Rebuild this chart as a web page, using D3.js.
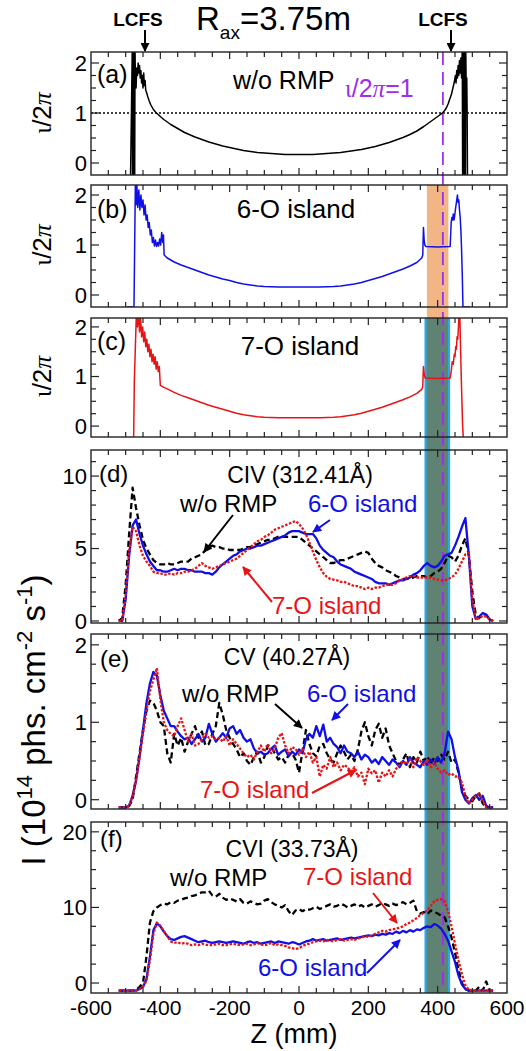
<!DOCTYPE html>
<html>
<head>
<meta charset="utf-8">
<script src="https://cdn.jsdelivr.net/npm/d3@7"></script>
<style>
  body { margin: 0; background: #fff; }
  svg text { font-family: "Liberation Sans", Arial, sans-serif; }
</style>
</head>
<body>
<svg id="chart" width="526" height="1051"></svg>
<script>
'use strict'

// ---- data ----

// rotational transform profiles, [Z (mm), iota/2pi]
var iotaNoRmp = [[-486,-0.3],[-483,1.2],[-481,2.3],[-480,-0.3],[-479,2.3],[-478,-0.3],[-477,2.3],[-476,-0.3],[-475,2.3],[-474,-0.3],[-473,2.3],[-472,1.7],[-470,1.5],[-468,1.9],[-466,1.75],[-464,2.0],[-462,1.8],[-460,1.95],[-458,1.7],[-456,1.85],[-454,1.6],[-452,1.75],[-450,1.5],[-448,1.8],[-446,1.55],[-444,1.65],[-442,1.45],[-440,1.42],[-436,1.32],[-432,1.24],[-428,1.17],[-424,1.12],[-420,1.07],[-414,1.02],[-408,0.98],[-400,0.93],[-390,0.87],[-380,0.82],[-370,0.77],[-360,0.73],[-350,0.69],[-340,0.65],[-330,0.61],[-320,0.58],[-300,0.52],[-280,0.47],[-260,0.42],[-240,0.38],[-220,0.34],[-200,0.31],[-180,0.28],[-160,0.25],[-140,0.23],[-120,0.21],[-100,0.2],[-80,0.19],[-60,0.18],[-40,0.17],[0,0.17],[40,0.17],[60,0.18],[80,0.19],[100,0.2],[120,0.21],[140,0.23],[160,0.25],[180,0.27],[200,0.3],[220,0.33],[240,0.37],[260,0.41],[280,0.46],[300,0.51],[320,0.57],[340,0.64],[360,0.73],[380,0.83],[400,0.93],[410,0.98],[415,1.01],[420,1.05],[425,1.1],[430,1.18],[435,1.28],[440,1.38],[444,1.5],[448,1.62],[451,1.75],[453,1.6],[455,1.85],[457,1.7],[459,1.95],[461,1.75],[463,2.05],[465,1.8],[467,2.1],[469,1.7],[471,2.3],[472,-0.3],[473,2.3],[474,-0.3],[475,2.3],[476,-0.3],[477,2.3],[478,-0.3],[479,2.3],[480,-0.3],[481,2.3],[482,1.7],[484,1.7],[485,1.0],[486,-0.3]]

var iota6o = [[-496,-0.24],[-476,-0.24],[-474,1.0],[-472,2.25],[-470,1.8],[-468,2.25],[-465,1.75],[-462,2.1],[-459,1.7],[-456,2.0],[-453,1.75],[-450,1.9],[-447,1.6],[-444,1.8],[-441,1.5],[-438,1.6],[-435,1.35],[-432,1.45],[-429,1.2],[-426,1.3],[-423,1.05],[-420,1.15],[-417,0.98],[-414,1.1],[-411,0.97],[-408,1.05],[-405,0.98],[-402,1.12],[-399,1.0],[-396,1.25],[-393,1.05],[-391,1.2],[-389,0.8],[-380,0.74],[-360,0.66],[-340,0.6],[-320,0.55],[-300,0.5],[-280,0.45],[-260,0.4],[-240,0.36],[-220,0.32],[-200,0.29],[-180,0.25],[-160,0.22],[-140,0.2],[-120,0.18],[-100,0.17],[-60,0.16],[0,0.16],[60,0.16],[100,0.17],[120,0.18],[140,0.2],[160,0.22],[180,0.25],[200,0.29],[220,0.33],[240,0.37],[260,0.42],[280,0.47],[300,0.52],[320,0.58],[340,0.65],[354,0.74],[357,0.8],[359,1.35],[361,1.1],[363,1.0],[366,0.97],[400,0.96],[436,0.97],[439,1.45],[441,1.55],[443,1.5],[445,1.62],[447,1.5],[449,1.58],[451,1.7],[453,1.8],[455,1.9],[457,2.0],[459,1.85],[461,1.9],[463,1.7],[465,1.55],[467,1.3],[469,0.9],[471,0.4],[473,-0.24],[494,-0.24]]

var iota7o = [[-498,-0.24],[-477,-0.24],[-475,0.9],[-472,1.6],[-469,2.3],[-466,2.0],[-463,2.3],[-460,1.9],[-457,2.2],[-454,1.8],[-451,2.0],[-448,1.7],[-445,1.9],[-442,1.6],[-439,1.75],[-436,1.5],[-433,1.65],[-430,1.4],[-427,1.55],[-424,1.3],[-421,1.45],[-418,1.25],[-415,1.4],[-412,1.15],[-409,1.3],[-406,1.1],[-403,1.2],[-400,0.82],[-390,0.78],[-380,0.75],[-360,0.68],[-340,0.62],[-320,0.57],[-300,0.52],[-280,0.47],[-260,0.42],[-240,0.38],[-220,0.34],[-200,0.3],[-180,0.26],[-160,0.23],[-140,0.21],[-120,0.19],[-100,0.18],[-60,0.17],[0,0.17],[60,0.17],[100,0.18],[120,0.19],[140,0.21],[160,0.23],[180,0.26],[200,0.3],[220,0.34],[240,0.38],[260,0.43],[280,0.48],[300,0.53],[320,0.59],[340,0.66],[354,0.74],[357,0.8],[359,1.2],[361,1.05],[364,0.97],[400,0.96],[436,0.97],[439,1.1],[442,1.3],[445,1.25],[448,1.45],[450,1.4],[452,1.6],[454,1.55],[456,1.8],[458,1.75],[460,2.0],[462,2.3],[464,2.2],[466,1.6],[468,1.0],[470,0.5],[472,0.0],[474,-0.24],[498,-0.24]]

// emission profiles share one Z grid (mm)
var zGrid = [
  -520,-510,-500,-490,-480,-470,-460,-450,-440,-430,
  -420,-410,-400,-390,-380,-370,-360,-350,-340,-330,
  -320,-310,-300,-290,-280,-270,-260,-250,-240,-230,
  -220,-210,-200,-190,-180,-170,-160,-150,-140,-130,
  -120,-110,-100,-90,-80,-70,-60,-50,-40,-30,
  -20,-10,0,10,20,30,40,50,60,70,
  80,90,100,110,120,130,140,150,160,170,
  180,190,200,210,220,230,240,250,260,270,
  280,290,300,310,320,330,340,350,360,370,
  380,390,400,410,420,430,440,450,460,470,
  480,490,500,510,520,530,540,550,560]

// CIV 312.41 A
var civNoRmp = [
  0,0.2,2.5,6.0,9.2,7.8,6.6,5.6,5.0,4.6,
  4.2,4.0,3.9,3.9,4.0,3.9,3.9,4.0,4.1,4.1,
  4.1,4.3,4.4,4.5,4.6,4.9,5.1,5.2,5.1,5.1,
  5.0,5.0,4.9,4.9,4.9,4.9,5.0,5.1,5.1,5.2,
  5.3,5.4,5.5,5.6,5.6,5.7,5.8,5.8,5.8,5.8,
  5.8,5.8,5.8,5.6,5.4,5.2,5.0,4.8,4.6,4.4,
  4.2,4.0,4.0,4.1,4.2,4.2,4.3,4.4,4.5,4.6,
  4.7,4.8,4.7,4.3,4.0,3.8,3.7,3.5,3.4,3.3,
  3.1,3.0,2.9,2.9,2.9,3.0,3.1,3.1,3.1,3.0,
  3.1,3.3,3.4,3.6,4.0,4.5,4.4,4.1,4.5,5.2,
  5.7,4.5,2.0,0.4,0.2,0.5,0.4,0.1,0]
var civ6o = [
  0,0,1.5,4.5,6.6,7.0,6.0,5.2,4.6,4.1,
  3.8,3.5,3.5,3.4,3.4,3.5,3.6,3.5,3.6,3.6,
  3.5,3.5,3.4,3.4,3.4,3.3,3.3,3.2,3.4,3.7,
  3.9,4.1,4.3,4.5,4.6,4.8,4.9,5.0,5.0,5.1,
  5.2,5.2,5.3,5.4,5.5,5.6,5.7,5.8,5.9,6.1,
  6.2,6.2,6.2,6.1,6.0,6.0,6.0,5.7,5.2,4.9,
  4.7,4.5,4.4,4.1,3.9,3.8,3.7,3.6,3.4,3.3,
  3.2,3.1,3.0,2.9,2.7,2.6,2.6,2.6,2.5,2.6,
  2.7,2.8,2.8,2.9,3.0,3.2,3.3,3.5,3.8,4.0,
  3.8,3.7,3.8,4.1,4.5,4.6,4.7,5.2,5.8,6.5,
  7.1,4.5,1.0,0.15,0.3,0.55,0.45,0.1,0]
var civ7o = [
  0,0,1.8,4.8,6.5,6.2,5.2,4.5,4.1,3.8,
  3.4,3.3,3.3,3.2,3.2,3.3,3.2,3.3,3.3,3.4,
  3.4,3.5,3.6,3.8,4.0,3.8,3.7,3.6,3.7,3.8,
  3.9,4.0,4.1,4.2,4.3,4.5,4.7,4.9,5.1,5.3,
  5.5,5.6,5.8,5.9,6.1,6.3,6.4,6.5,6.6,6.7,
  6.8,6.9,6.7,6.4,6.0,5.4,4.8,4.2,3.7,3.3,
  3.05,2.9,2.85,2.8,2.7,2.7,2.6,2.5,2.4,2.4,
  2.3,2.2,2.3,2.2,2.3,2.3,2.4,2.5,2.5,2.5,
  2.6,2.8,2.9,3.0,3.1,3.1,3.0,3.0,3.0,3.0,
  3.0,2.9,2.85,2.8,2.8,2.9,3.0,3.2,3.6,4.1,
  4.6,4.7,1.5,0.1,0.2,0.35,0.3,0.1,0]

// CV 40.27 A
var cvNoRmp = [
  -0.1,-0.1,-0.1,-0.08,0.0,0.3,0.6,0.9,1.15,1.28,
  1.25,1.15,1.0,0.95,0.6,0.48,0.85,0.7,0.8,0.62,
  0.75,0.85,0.95,0.8,0.88,0.7,0.72,0.85,0.95,1.25,
  1.1,0.9,0.8,0.72,0.65,0.55,0.6,0.5,0.45,0.55,
  0.62,0.48,0.55,0.7,0.68,0.6,0.52,0.55,0.48,0.58,
  0.6,0.52,0.35,0.62,0.9,0.72,0.6,0.56,0.7,0.72,
  0.6,0.52,0.48,0.6,0.7,0.62,0.52,0.58,0.5,0.65,
  0.88,1.0,0.82,0.7,0.9,0.98,0.8,0.92,0.7,0.6,
  0.5,0.45,0.52,0.6,0.42,0.55,0.48,0.62,0.5,0.56,
  0.45,0.55,0.5,0.58,0.52,0.62,0.48,0.52,0.35,0.15,
  0.05,0.0,-0.02,0.05,0.08,-0.05,-0.1,-0.1,-0.1]
var cv6o = [
  -0.1,-0.1,-0.1,-0.08,0.05,0.25,0.55,0.9,1.25,1.5,
  1.65,1.6,1.35,1.15,1.05,0.95,0.95,0.88,0.82,0.78,
  0.8,0.72,0.78,0.85,0.75,0.8,0.98,0.85,0.75,0.8,
  0.86,0.8,0.92,0.95,0.85,0.9,0.8,0.75,0.78,0.66,
  0.6,0.62,0.58,0.6,0.66,0.7,0.58,0.62,0.65,0.56,
  0.62,0.58,0.65,0.6,0.78,0.85,0.8,0.95,0.82,0.97,
  0.75,0.8,0.72,0.68,0.6,0.7,0.62,0.6,0.55,0.62,
  0.52,0.58,0.55,0.48,0.52,0.46,0.55,0.5,0.45,0.52,
  0.48,0.42,0.5,0.45,0.55,0.48,0.45,0.42,0.5,0.45,
  0.52,0.46,0.55,0.48,0.6,0.88,0.78,0.55,0.38,0.1,
  0.0,-0.05,0.02,0.06,0.0,0.05,-0.08,-0.1,-0.1]
var cv7o = [
  -0.1,-0.1,-0.1,-0.08,0.05,0.25,0.55,0.85,1.15,1.4,
  1.55,1.7,1.3,1.0,0.9,0.85,0.82,0.95,1.05,0.9,
  0.75,0.85,0.7,0.72,0.78,0.85,0.8,0.82,0.78,0.8,
  0.75,0.82,0.7,0.78,0.72,0.66,0.6,0.55,0.58,0.52,
  0.62,0.7,0.62,0.72,0.6,0.66,0.8,0.86,0.7,0.6,
  0.68,0.66,0.58,0.65,0.55,0.62,0.48,0.55,0.3,0.45,
  0.4,0.55,0.42,0.48,0.38,0.45,0.42,0.36,0.42,0.3,
  0.35,0.2,0.4,0.34,0.38,0.22,0.35,0.3,0.38,0.3,
  0.4,0.45,0.5,0.46,0.52,0.42,0.55,0.5,0.45,0.52,
  0.42,0.48,0.4,0.35,0.38,0.32,0.34,0.3,0.3,0.22,
  0.05,-0.05,0.0,0.05,0.08,-0.02,-0.1,-0.1,-0.1]

// CVI 33.73 A
var cviNoRmp = [
  -1,-1,-1,-1,-1,-0.9,-0.5,0,3.5,8.0,
  9.5,10.0,10.3,10.5,10.4,10.7,10.6,10.9,11.0,11.2,
  11.3,11.5,11.6,11.8,12.0,12.0,12.2,11.6,11.4,11.8,
  11.3,11.0,11.2,11.0,10.8,11.1,10.6,10.5,10.8,10.6,
  10.4,10.5,10.9,11.1,10.7,10.4,10.2,10.0,10.3,9.5,
  9.0,9.6,9.8,9.5,9.8,9.7,9.9,10.1,9.8,10.0,
  10.2,10.4,10.1,10.2,10.5,10.3,10.0,10.2,10.4,10.1,
  10.3,10.0,10.2,10.4,10.1,10.3,10.6,10.4,10.2,10.5,
  10.3,10.5,10.7,10.4,10.6,10.9,9.5,9.2,9.4,9.1,
  9.6,9.4,9.2,8.9,8.7,7.5,6.0,4.0,1.8,0.0,
  -0.8,-1,-1,-1,-0.5,-1,0.2,-1,-1]
var cvi6o = [
  -1,-1,-1,-1,-1,-1,-0.8,-0.5,0.5,3.5,
  7.0,7.9,7.5,6.8,6.2,5.8,5.7,5.9,6.1,6.2,
  6.0,5.8,5.6,5.4,5.5,5.6,5.4,5.3,5.4,5.5,
  5.4,5.3,5.4,5.5,5.4,5.3,5.2,5.4,5.5,5.3,
  5.4,5.2,5.3,5.4,5.5,5.3,5.5,5.4,5.3,5.2,
  5.4,5.3,5.1,5.3,5.5,5.6,5.8,5.6,5.7,5.8,
  5.6,5.7,5.8,5.9,5.7,5.8,5.9,6.0,5.9,6.0,
  6.1,6.2,6.3,6.2,6.4,6.3,6.5,6.4,6.6,6.5,
  6.8,6.6,6.9,6.7,7.0,6.8,7.1,7.0,7.3,7.5,
  7.4,7.8,7.6,7.2,6.5,5.6,4.2,2.8,1.0,-0.2,
  -0.8,-1,-1,-1,-1,-1,-1,-1,-1]
var cvi7o = [
  -1,-1,-1,-1,-1,-1,-0.8,-0.5,0.3,3.0,
  6.5,8.0,7.6,6.9,6.2,5.5,5.3,5.4,5.2,5.3,
  5.2,5.0,5.1,5.0,5.2,5.1,5.0,5.0,5.1,5.2,
  5.0,5.0,5.1,5.2,5.1,5.0,5.1,5.2,5.0,5.1,
  5.3,5.1,5.0,5.1,5.3,5.0,5.1,5.0,4.9,4.7,
  4.6,4.5,4.6,4.9,5.1,5.2,5.4,5.5,5.6,5.5,
  5.7,5.6,5.5,5.7,5.8,5.6,5.7,5.8,5.7,5.9,
  6.0,6.2,6.1,6.3,6.5,6.7,6.9,6.8,7.0,7.1,
  7.2,7.3,7.5,7.8,8.0,8.3,8.6,9.0,9.3,9.6,
  10.2,10.8,11.0,11.1,10.8,9.5,7.5,5.2,3.0,1.2,
  -0.3,-0.9,-1,-1,-1,-1,-1,-1,-1]

// marked regions along Z (mm)
var island6oBand = [369, 431]
var island7oBand = [362, 436]
var iotaOneZ = 415
var xTickLabels = [-600, -400, -200, 0, 200, 400, 600]

// ---- layout ----
var BLACK = '#000', BLUE = '#1010e6', RED = '#e81414', PURPLE = '#9b30e8'
var svg = d3.select('#chart')
var x = d3.scaleLinear().domain([-600, 600]).range([91, 507])

var iotaPanels = [
  {id: 'a', top: 52, bottom: 175, dom: [-0.24, 2.22], data: iotaNoRmp, color: BLACK},
  {id: 'b', top: 185, bottom: 307, dom: [-0.24, 2.2], data: iota6o, color: BLUE},
  {id: 'c', top: 318, bottom: 437, dom: [-0.22, 2.18], data: iota7o, color: RED}
]
var profPanels = [
  {id: 'd', top: 450, bottom: 623, dom: [-0.14, 11.8], major: [0, 5, 10], minor: 1,
    series: [civNoRmp, civ6o, civ7o]},
  {id: 'e', top: 634, bottom: 809, dom: [-0.12, 2.14], major: [0, 1, 2], minor: 0.25,
    series: [cvNoRmp, cv6o, cv7o]},
  {id: 'f', top: 822, bottom: 993, dom: [-1.32, 21.3], major: [0, 10, 20], minor: 2.5,
    series: [cviNoRmp, cvi6o, cvi7o]}
]
var seriesStyle = [
  {color: BLACK, dash: '6,3.5', width: 2.3},
  {color: BLUE, dash: null, width: 2.3},
  {color: RED, dash: '2.5,1.6', width: 2.3}
]

var defs = svg.append('defs')
function marker(id, color) {
  defs.append('marker')
    .attr('id', id).attr('viewBox', '0 0 10 10')
    .attr('refX', 9).attr('refY', 5)
    .attr('markerWidth', 10).attr('markerHeight', 9)
    .attr('markerUnits', 'userSpaceOnUse')
    .attr('orient', 'auto')
    .append('path').attr('d', 'M0,0 L10,5 L0,10 z').attr('fill', color)
}
marker('arrK', BLACK)
marker('arrB', BLUE)
marker('arrR', RED)

var allPanels = iotaPanels.concat(profPanels)
allPanels.forEach(function(p) {
  p.y = d3.scaleLinear().domain(p.dom).range([p.bottom, p.top])
  defs.append('clipPath').attr('id', 'clip_' + p.id)
    .append('rect')
    .attr('x', x.range()[0]).attr('y', p.top)
    .attr('width', x.range()[1] - x.range()[0]).attr('height', p.bottom - p.top)
})

// bands across panels
var bands = svg.append('g').attr('class', 'bands')
bands.append('rect')
  .attr('x', x(island6oBand[0])).attr('y', iotaPanels[1].top)
  .attr('width', x(island6oBand[1]) - x(island6oBand[0]))
  .attr('height', iotaPanels[2].top - iotaPanels[1].top)
  .attr('fill', '#f2b685')
bands.append('rect')
  .attr('x', x(island7oBand[0])).attr('y', iotaPanels[2].top)
  .attr('width', x(island7oBand[1]) - x(island7oBand[0]))
  .attr('height', profPanels[2].bottom - iotaPanels[2].top)
  .attr('fill', '#2aa8e8')
bands.append('rect')
  .attr('x', x(island7oBand[0]) + 2.2).attr('y', iotaPanels[2].top)
  .attr('width', x(island7oBand[1]) - x(island7oBand[0]) - 4.4)
  .attr('height', profPanels[2].bottom - iotaPanels[2].top)
  .attr('fill', '#5f8272')

// dotted iota = 1 in (a)
var pa = iotaPanels[0]
svg.append('line')
  .attr('x1', x.range()[0]).attr('x2', x.range()[1])
  .attr('y1', pa.y(1)).attr('y2', pa.y(1))
  .attr('stroke', '#000').attr('stroke-width', 1.3)
  .attr('stroke-dasharray', '2,2')

// purple dashed line through all panels
svg.append('line')
  .attr('x1', x(iotaOneZ)).attr('x2', x(iotaOneZ))
  .attr('y1', pa.top).attr('y2', profPanels[2].bottom)
  .attr('stroke', PURPLE).attr('stroke-width', 1.8)
  .attr('stroke-dasharray', '13,7')

// curves
iotaPanels.forEach(function(p) {
  var line = d3.line().x(function(d) { return x(d[0]) }).y(function(d) { return p.y(d[1]) })
  svg.append('path').datum(p.data)
    .attr('clip-path', 'url(#clip_' + p.id + ')')
    .attr('d', line)
    .attr('fill', 'none').attr('stroke', p.color)
    .attr('stroke-width', 1.5).attr('stroke-linejoin', 'round')
})
profPanels.forEach(function(p) {
  var g = svg.append('g').attr('clip-path', 'url(#clip_' + p.id + ')')
  p.series.forEach(function(vals, i) {
    var st = seriesStyle[i]
    var line = d3.line().x(function(d, k) { return x(zGrid[k]) }).y(function(d) { return p.y(d) })
    g.append('path').datum(vals)
      .attr('d', line)
      .attr('fill', 'none').attr('stroke', st.color)
      .attr('stroke-width', st.width)
      .attr('stroke-dasharray', st.dash)
      .attr('stroke-linejoin', 'round')
  })
})

// frames and ticks
var xMinor = d3.range(-550, 600, 50)
allPanels.forEach(function(p) {
  var g = svg.append('g').attr('class', 'frame')
  var x0 = x.range()[0], x1 = x.range()[1]
  var ticksY = p.minor ? d3.range(Math.ceil(p.dom[0] / p.minor) * p.minor, p.dom[1], p.minor)
                       : d3.range(0, p.dom[1], 0.25)
  var majorY = p.major || [0, 1, 2]
  xMinor.forEach(function(v) {
    var len = v % 200 === 0 ? 7 : 5
    g.append('line').attr('x1', x(v)).attr('x2', x(v)).attr('y1', p.bottom).attr('y2', p.bottom - len)
    g.append('line').attr('x1', x(v)).attr('x2', x(v)).attr('y1', p.top).attr('y2', p.top + len)
  })
  ticksY.forEach(function(v) {
    var isMajor = majorY.some(function(m) { return Math.abs(m - v) < 1e-6 })
    var len = isMajor ? 8 : 5
    g.append('line').attr('x1', x0).attr('x2', x0 + len).attr('y1', p.y(v)).attr('y2', p.y(v))
    g.append('line').attr('x1', x1).attr('x2', x1 - len).attr('y1', p.y(v)).attr('y2', p.y(v))
  })
  g.selectAll('line').attr('stroke', '#222').attr('stroke-width', 1.2)
  g.append('rect')
    .attr('x', x0).attr('y', p.top)
    .attr('width', x1 - x0).attr('height', p.bottom - p.top)
    .attr('fill', 'none').attr('stroke', '#222').attr('stroke-width', 1.4)
  majorY.forEach(function(v) {
    g.append('text').attr('x', 87).attr('y', p.y(v)).attr('dy', '0.36em')
      .attr('text-anchor', 'end').attr('font-size', 22).text(v)
  })
})

// x tick labels and title
var last = profPanels[2]
xTickLabels.forEach(function(v) {
  svg.append('text').attr('x', x(v)).attr('y', last.bottom + 22)
    .attr('text-anchor', 'middle').attr('font-size', 21).text(v)
})
svg.append('text').attr('x', 294).attr('y', 1043).attr('text-anchor', 'middle')
  .attr('font-size', 27).text('Z (mm)')

// iota/2pi y labels
iotaPanels.forEach(function(p) {
  var t = svg.append('text')
    .attr('transform', 'translate(51,' + p.y(1) + ') rotate(-90)')
    .attr('text-anchor', 'middle').attr('font-size', 26)
  t.append('tspan').attr('font-family', 'Liberation Serif').text('\u03b9')
  t.append('tspan').text('/2')
  t.append('tspan').attr('font-family', 'Liberation Serif').attr('font-style', 'italic').text('\u03c0')
})

// intensity y label
var yl = svg.append('text')
  .attr('transform', 'translate(45,720) rotate(-90)')
  .attr('text-anchor', 'middle').attr('font-size', 33)
yl.append('tspan').text('I (10')
yl.append('tspan').attr('dy', -13).attr('font-size', 22).text('14')
yl.append('tspan').attr('dy', 13).text(' phs. cm')
yl.append('tspan').attr('dy', -13).attr('font-size', 22).text('-2')
yl.append('tspan').attr('dy', 13).text(' s')
yl.append('tspan').attr('dy', -13).attr('font-size', 22).text('-1')
yl.append('tspan').attr('dy', 13).text(')')

// top annotations
function txt(xp, yp, s, size, color, anchor, weight) {
  return svg.append('text').attr('x', xp).attr('y', yp)
    .attr('font-size', size).attr('fill', color || '#000')
    .attr('text-anchor', anchor || 'start')
    .attr('font-weight', weight || 'normal').text(s)
}
function arrow(x1, y1, x2, y2, color, id, w) {
  svg.append('line').attr('x1', x1).attr('y1', y1).attr('x2', x2).attr('y2', y2)
    .attr('stroke', color).attr('stroke-width', w || 2)
    .attr('marker-end', 'url(#' + id + ')')
}
txt(138, 26, 'LCFS', 19, '#000', 'middle', 'bold')
txt(443, 26, 'LCFS', 19, '#000', 'middle', 'bold')
arrow(145, 30, 145, 51, BLACK, 'arrK', 2)
arrow(451, 30, 451, 51, BLACK, 'arrK', 2)
var ttl = svg.append('text').attr('x', 196).attr('y', 30).attr('font-size', 33)
ttl.append('tspan').text('R')
ttl.append('tspan').attr('dy', 9).attr('font-size', 19).text('ax')
ttl.append('tspan').attr('dy', -9).text('=3.75m')

// panel texts
txt(97, 83, '(a)', 25)
txt(233, 89, 'w/o RMP', 25)
var io = svg.append('text').attr('x', 345).attr('y', 97).attr('font-size', 25).attr('fill', PURPLE)
io.append('tspan').attr('font-family', 'Liberation Serif').text('\u03b9')
io.append('tspan').text('/2')
io.append('tspan').attr('font-family', 'Liberation Serif').attr('font-style', 'italic').text('\u03c0')
io.append('tspan').text('=1')

txt(97, 218, '(b)', 25)
txt(296, 218, '6-O island', 26, '#000', 'middle')
txt(97, 350, '(c)', 25)
txt(300, 355, '7-O island', 26, '#000', 'middle')

txt(99, 482, '(d)', 24)
txt(300, 483, 'CIV (312.41\u00c5)', 23, '#000', 'middle')
txt(180, 512, 'w/o RMP', 24)
txt(308, 512, '6-O island', 24, BLUE)
txt(272, 614, '7-O island', 24, RED)
arrow(233, 515, 204, 552, BLACK, 'arrK')
arrow(330, 520, 313, 532, BLUE, 'arrB')
arrow(272, 602, 243, 567, RED, 'arrR')

txt(100, 667, '(e)', 24)
txt(287, 665, 'CV (40.27\u00c5)', 23, '#000', 'middle')
txt(182, 702, 'w/o RMP', 24)
txt(307, 702, '6-O island', 24, BLUE)
txt(200, 798, '7-O island', 24, RED)
arrow(275, 704, 302, 728, BLACK, 'arrK')
arrow(348, 704, 332, 720, BLUE, 'arrB')
arrow(312, 793, 356, 770, RED, 'arrR')

txt(100, 847, '(f)', 24)
txt(292, 857, 'CVI (33.73\u00c5)', 23, '#000', 'middle')
txt(170, 886, 'w/o RMP', 24)
txt(303, 885, '7-O island', 24, RED)
txt(258, 976, '6-O island', 24, BLUE)
arrow(373, 893, 397, 923, RED, 'arrR')
arrow(367, 973, 400, 940, BLUE, 'arrB')
</script>
</body>
</html>
